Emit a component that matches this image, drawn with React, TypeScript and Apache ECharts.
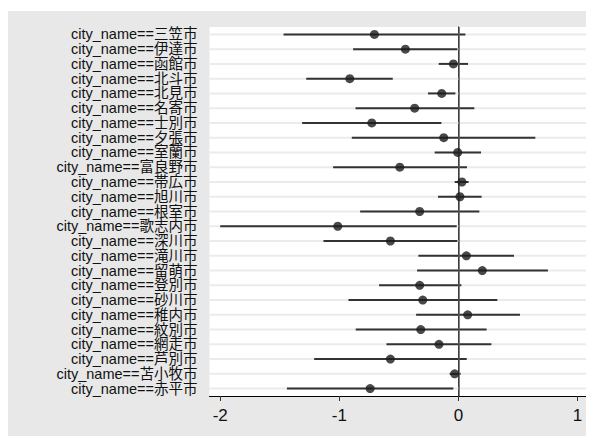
import React, { useEffect, useRef } from "react";
import * as echarts from "echarts";

const cities = [
  "三笠市", "伊達市", "函館市", "北斗市", "北見市", "名寄市", "士別市", "夕張市",
  "室蘭市", "富良野市", "帯広市", "旭川市", "根室市", "歌志内市", "深川市", "滝川市",
  "留萌市", "登別市", "砂川市", "稚内市", "紋別市", "網走市", "芦別市", "苫小牧市", "赤平市",
];
const estimates = [
  -0.705, -0.445, -0.042, -0.912, -0.140, -0.367, -0.727, -0.123,
  -0.006, -0.492, 0.030, 0.013, -0.325, -1.013, -0.571, 0.067,
  0.201, -0.325, -0.299, 0.078, -0.316, -0.163, -0.571, -0.031, -0.741,
];
const lower = [
  -1.468, -0.884, -0.165, -1.278, -0.255, -0.864, -1.312, -0.895,
  -0.199, -1.052, -0.031, -0.171, -0.825, -2.0, -1.133, -0.336,
  -0.347, -0.666, -0.923, -0.355, -0.862, -0.604, -1.211, -0.073, -1.44,
];
const upper = [
  0.059, -0.008, 0.081, -0.551, -0.025, 0.134, -0.143, 0.646,
  0.19, 0.072, 0.086, 0.195, 0.176, -0.014, -0.008, 0.467,
  0.752, 0.025, 0.327, 0.517, 0.237, 0.277, 0.07, 0.019, -0.042,
];
const xTicks = [-2, -1, 0, 1];
const labelPrefix = "city_name==";

export default function App() {
  const ref = useRef<HTMLDivElement>(null);
  useEffect(() => {
    if (!ref.current) return;
    const chart = echarts.init(ref.current, undefined, { renderer: "svg" });
    const labels = cities.map((c) => labelPrefix + c);
    const ciData = cities.map((c, i) => [lower[i], upper[i], i]);
    const option: any = {
      animation: false,
      backgroundColor: "#e8e8e8",
      grid: {
        show: true,
        backgroundColor: "#ffffff",
        borderWidth: 0,
        left: 201.5,
        top: 16,
        right: 7,
        bottom: 40,
      },
      xAxis: {
        type: "value",
        min: -2.09,
        max: 1.08,
        axisLine: { show: true, onZero: false, lineStyle: { color: "#000", width: 1 } },
        axisTick: {
          show: true,
          length: 5,
          customValues: xTicks,
          lineStyle: { color: "#333" },
        },
        axisLabel: {
          customValues: xTicks,
          fontSize: 17,
          color: "#111",
          margin: 11,
          fontFamily: "'Liberation Sans', Arial, sans-serif",
        },
        splitLine: { show: false },
      },
      yAxis: {
        type: "category",
        inverse: true,
        data: labels,
        axisLine: { show: true, lineStyle: { color: "#000", width: 1 } },
        axisTick: { show: true, alignWithLabel: true, length: 5, lineStyle: { color: "#333" } },
        axisLabel: {
          fontSize: 14.5,
          lineHeight: 14,
          color: "#111",
          margin: 12,
          interval: 0,
          fontFamily: "'Liberation Sans', 'Noto Sans CJK JP', sans-serif",
        },
        splitLine: { show: false },
      },
      series: [
        {
          type: "custom",
          z: 1,
          data: ciData,
          encode: { x: [0, 1], y: 2 },
          renderItem: (params: any, api: any) => {
            const lo = api.value(0);
            const hi = api.value(1);
            const idx = api.value(2);
            const p1 = api.coord([lo, idx]);
            const p2 = api.coord([hi, idx]);
            const cs = params.coordSys;
            return {
              type: "group",
              children: [
                {
                  type: "line",
                  shape: { x1: cs.x, y1: p1[1], x2: cs.x + cs.width, y2: p1[1] },
                  style: { stroke: "#ebebeb", lineWidth: 2 },
                  z2: 0,
                },
                {
                  type: "line",
                  shape: { x1: p1[0], y1: p1[1], x2: p2[0], y2: p2[1] },
                  style: { stroke: "#333333", lineWidth: 2 },
                  z2: 5,
                },
              ],
            };
          },
        },
        {
          type: "scatter",
          z: 4,
          symbol: "circle",
          symbolSize: 9,
          itemStyle: { color: "#1c1c1c" },
          data: cities.map((c, i) => [estimates[i], i]),
          markLine: {
            silent: true,
            symbol: "none",
            label: { show: false },
            z: 2,
            lineStyle: { color: "#555555", width: 1.5, type: "solid" },
            data: [{ xAxis: 0 }],
          },
        },
      ],
    };
    chart.setOption(option);
    return () => chart.dispose();
  }, []);
  return (
    <div style={{ paddingTop: 3 }}>
      <div ref={ref} style={{ width: 586, height: 425 }} />
    </div>
  );
}
